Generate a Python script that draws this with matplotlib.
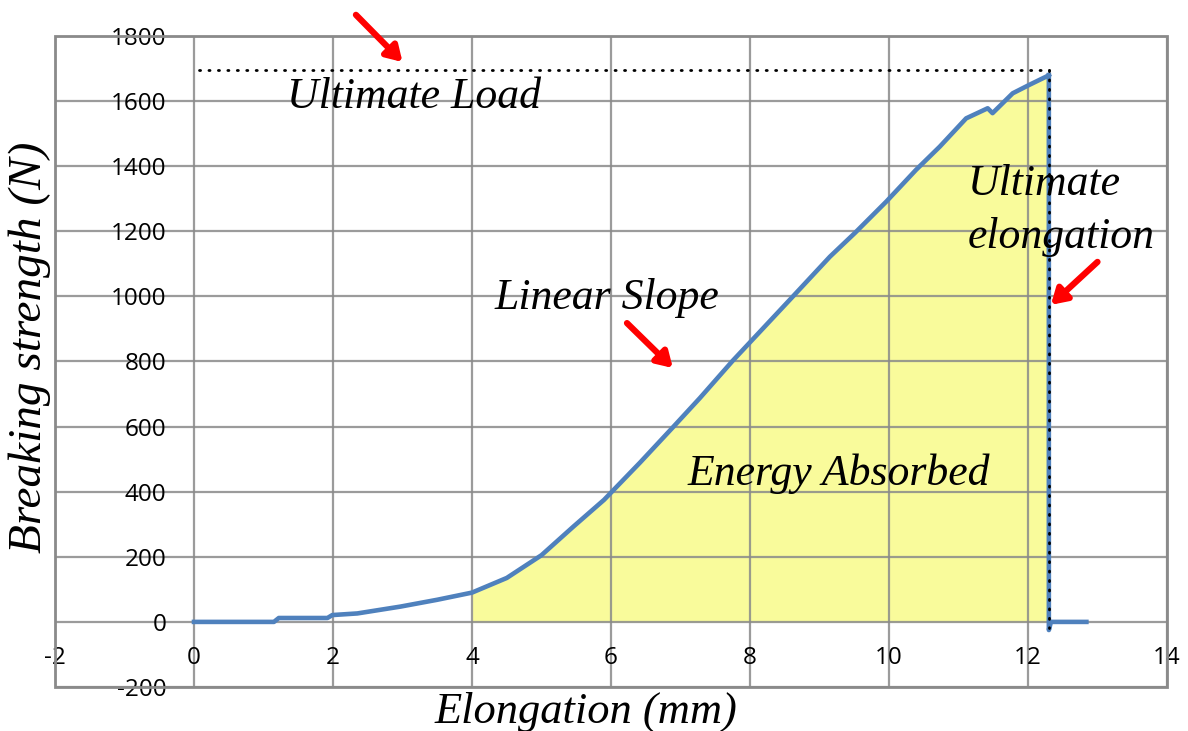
import numpy as np
import matplotlib.pyplot as plt
from matplotlib.patches import Rectangle

plt.rcParams["axes.unicode_minus"] = False

# load-elongation record of the tensile test
elong = [0, 1.15, 1.22, 1.92, 1.99, 2.35, 2.97, 3.5, 4.0, 4.5, 5.0, 5.46, 5.9,
         6.42, 6.9, 7.28, 7.75, 8.57, 9.15, 9.51, 9.96, 10.39, 10.73, 11.11,
         11.42, 11.49, 11.78, 12.02, 12.26, 12.3]
load = [0, 0, 12, 12, 21, 26, 47, 68, 90, 135, 205, 293, 375,
        490, 600, 688, 802, 989, 1122, 1195, 1291, 1389, 1460, 1547,
        1578, 1563, 1624, 1650, 1675, 1680]

# after rupture
break_x = [12.3, 12.3, 12.33, 12.84]
break_y = [1680, -25, 0, 0]

ultimate_load = 1695
ultimate_elong = 12.3
energy_start = 4.0

xticks = list(range(-2, 15, 2))
yticks = list(range(-200, 1801, 200))

serif = dict(family="Liberation Serif", style="italic")
blue = "#4f81bd"
grid_col = "#8a8a8a"

fig = plt.figure(figsize=(11.88, 7.31), dpi=100)
ax = fig.add_axes([55 / 1188, 1 - 687 / 731, 1112 / 1188, 651 / 731])
ax.set_xlim(-2, 14)
ax.set_ylim(-200, 1800)
ax.set_xticks(xticks)
ax.set_yticks(yticks)
ax.grid(True, color=grid_col, lw=1.6, alpha=0.85, zorder=1)
ax.set_axisbelow(True)

for s in ax.spines.values():
    s.set_visible(False)
ax.spines["left"].set_position(("data", 0))
ax.spines["bottom"].set_position(("data", 0))
ax.tick_params(length=0, labelsize=17.5, labelcolor="black")
ax.tick_params(axis="y", pad=20)
ax.tick_params(axis="x", pad=17)
for lab in ax.get_xticklabels() + ax.get_yticklabels():
    lab.set_family("Open Sans")
    lab.set_fontweight("medium")
ax.add_patch(Rectangle((0, 0), 1, 1, transform=ax.transAxes, fill=False,
                       ec=grid_col, lw=2, clip_on=False, zorder=1))

# shaded energy region
xf = np.linspace(energy_start, ultimate_elong, 400)
yf = np.interp(xf, elong, load)
ax.fill_between(xf, 0, yf, color="#f8fb8a", alpha=0.85, lw=0, zorder=0.5)

ax.plot(elong, load, color=blue, lw=3.3, zorder=3)
ax.plot(break_x, break_y, color=blue, lw=3.3, zorder=3)

dots = dict(color="black", lw=2, linestyle=(0, (0.4, 3.0)),
            dash_capstyle="round", zorder=4)
ax.plot([0.07, ultimate_elong], [ultimate_load, ultimate_load], **dots)
ax.plot([ultimate_elong, ultimate_elong], [ultimate_load, -20], **dots)

# labels
fs = 31.5
ax.text(3.17, 1579, "Ultimate Load", fontsize=fs, ha="center", va="baseline", **serif)
ax.text(5.94, 962, "Linear Slope", fontsize=fs, ha="center", va="baseline", **serif)
ax.text(9.28, 421, "Energy Absorbed", fontsize=fs, ha="center", va="baseline", **serif)
ax.text(11.13, 1312, "Ultimate", fontsize=fs, ha="left", va="baseline", zorder=5, **serif)
ax.text(11.13, 1149, "elongation", fontsize=fs, ha="left", va="baseline", zorder=5, **serif)

arrow = dict(arrowstyle="-|>,head_length=0.9,head_width=0.55", color="red",
             lw=4.5, shrinkA=0, shrinkB=0)
ax.annotate("", xy=(3.0, 1720), xytext=(2.33, 1865), arrowprops=arrow,
            annotation_clip=False)
ax.annotate("", xy=(6.89, 780), xytext=(6.23, 918), arrowprops=arrow)
ax.annotate("", xy=(12.33, 974), xytext=(13.0, 1106), arrowprops=arrow)

fig.text(30 / 1188, 1 - 347 / 731, "Breaking strength (N)", fontsize=34,
         rotation=90, ha="center", va="center", **serif)
fig.text(586 / 1188, 1 - 712 / 731, "Elongation (mm)", fontsize=32,
         ha="center", va="center", **serif)

fig.savefig("out.png", dpi=100)
